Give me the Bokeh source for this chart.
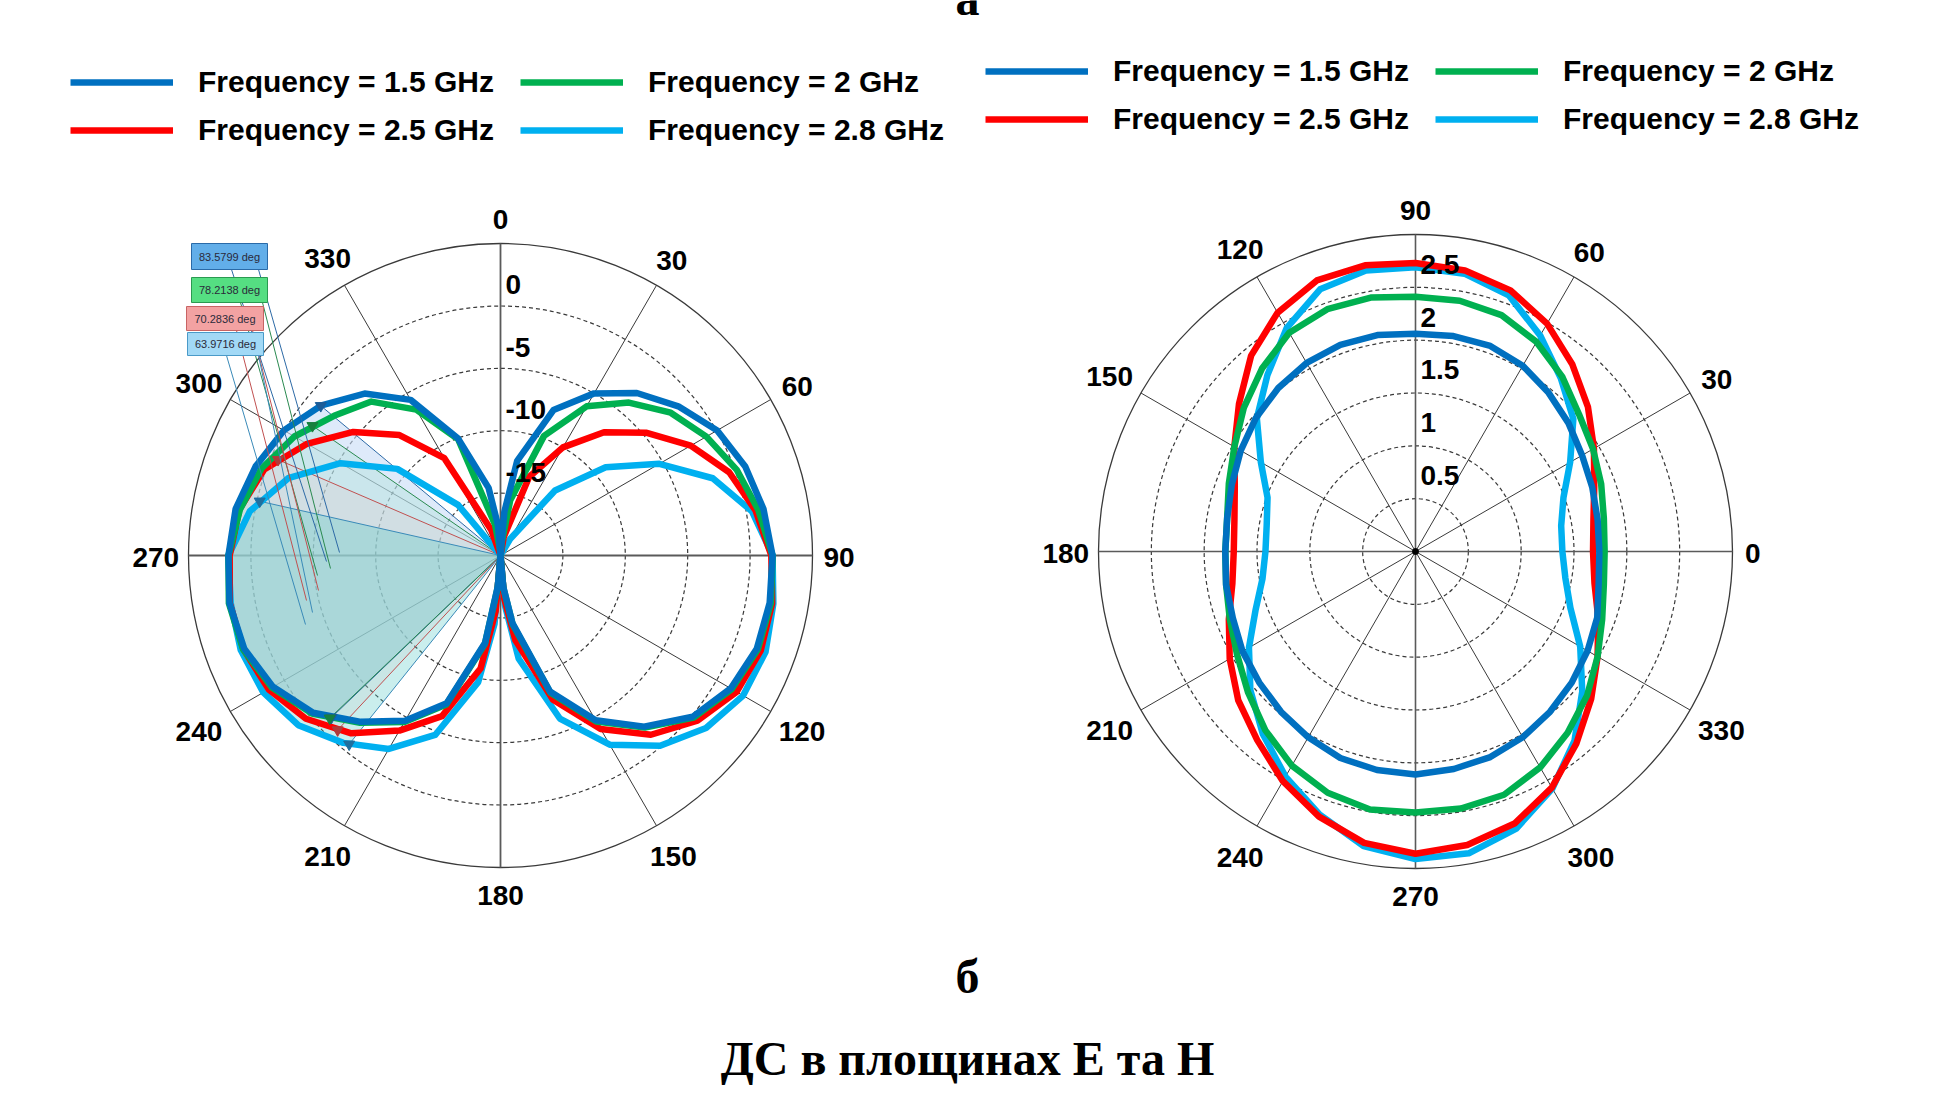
import numpy as np
from bokeh.plotting import figure
from bokeh.models import Range1d, Legend, LegendItem
from bokeh.layouts import column, row
from bokeh.embed import file_html
from bokeh.resources import INLINE
from bokeh.core.properties import value

# ---------------- data ----------------
series_names = ["Frequency = 1.5 GHz", "Frequency = 2 GHz", "Frequency = 2.5 GHz", "Frequency = 2.8 GHz"]
series_colors = ["#0070C0", "#00B050", "#FF0000", "#00B0F0"]

# E-plane (left chart): angle (deg, clockwise from top) and gain (dB)
e_theta = [0, 5, 10, 20, 30, 40, 50, 60, 70, 80, 90, 100, 110, 120, 130, 140, 150, 160, 170, 175,
           180, 185, 190, 200, 210, 220, 230, 240, 250, 260, 270, 280, 290, 300, 310, 320, 330, 340, 350, 355, 360]
e_gain_15 = [-20, -16.5, -12.3, -7.6, -5.0, -3.0, -1.4, 0.05, 0.87, 1.4, 1.8, 1.9, 1.85, 1.3, 0.1, -2.1, -4.75, -8.4, -14.5, -17.5,
             -20, -17.5, -12.9, -7.4, -4.7, -2.6, -0.4, 1.05, 1.85, 2.05, 1.8, 1.55, 0.88, 0.05, -1.28, -3.06, -5.6, -10.0, -14.5, -17.5, -20]
e_gain_20 = [-20, -19, -15.5, -9.8, -6.2, -4.0, -2.2, -0.95, 0.13, 0.98, 1.8, 2.0, 1.95, 1.4, 0.2, -2.0, -4.65, -8.3, -14.4, -17.4,
             -20, -17.4, -12.8, -7.3, -4.6, -2.5, -0.3, 1.15, 1.95, 2.1, 1.8, 1.2, 0.38, -0.93, -2.59, -3.9, -6.5, -10.1, -17.5, -19.5, -20]
e_gain_25 = [-20, -20, -18.5, -13.3, -10.0, -7.1, -4.7, -2.4, -0.5, 0.75, 1.7, 2.1, 2.2, 1.85, 0.6, -1.25, -3.95, -7.7, -13.1, -16.5,
             -20, -15.5, -10.8, -6.3, -3.8, -1.4, 0.35, 1.45, 1.93, 2.03, 1.7, 1.25, 0.15, -2.1, -4.6, -7.4, -11.0, -17.8, -20, -20, -20]
e_gain_28 = [-20, -20, -20, -20, -18.5, -13.2, -9.0, -5.3, -1.9, 0.45, 1.8, 2.2, 2.6, 2.45, 1.5, -0.1, -2.5, -6.1, -11.6, -16.0,
             -20, -14.5, -9.7, -4.7, -2.1, -0.4, 1.15, 1.95, 2.15, 1.95, 1.8, 0.4, -1.9, -5.2, -9.2, -14.7, -20, -20, -20, -20, -20]
e_rmin, e_rmax = -20, 5
e_rticks = [-15, -10, -5, 0]
e_rtick_labels = ["-15", "-10", "-5", "0"]
e_angle_ticks = [0, 30, 60, 90, 120, 150, 180, 210, 240, 270, 300, 330]

# half-power beamwidth markers on the left lobe
bw_deg = [83.5799, 78.2138, 70.2836, 63.9716]
bw_upper = [309.8, 304.6, 293.3, 282.7]

# H-plane (right chart): angle (deg, counter-clockwise from right) and gain (linear)
h_phi = [0, 10, 20, 30, 40, 50, 60, 70, 80, 90, 100, 110, 120, 130, 140, 150, 160, 170, 180,
         190, 200, 210, 220, 230, 240, 250, 260, 270, 280, 290, 300, 310, 320, 330, 340, 350, 360]
h_gain_15 = [1.74, 1.75, 1.78, 1.82, 1.89, 1.96, 2.03, 2.07, 2.07, 2.06, 2.08, 2.08, 2.06, 2.02, 1.97, 1.91, 1.85, 1.81, 1.80,
             1.82, 1.84, 1.89, 1.93, 1.98, 2.03, 2.08, 2.10, 2.11, 2.09, 2.07, 2.03, 1.98, 1.93, 1.88, 1.83, 1.76, 1.74]
h_gain_20 = [1.79, 1.81, 1.87, 1.94, 2.02, 2.16, 2.29, 2.38, 2.41, 2.41, 2.44, 2.44, 2.39, 2.26, 2.12, 1.98, 1.88, 1.81, 1.80,
             1.82, 1.87, 1.95, 2.07, 2.21, 2.34, 2.43, 2.48, 2.47, 2.47, 2.45, 2.36, 2.24, 2.12, 1.99, 1.88, 1.81, 1.79]
h_gain_25 = [1.68, 1.71, 1.80, 1.95, 2.13, 2.31, 2.49, 2.63, 2.70, 2.73, 2.75, 2.73, 2.61, 2.42, 2.18, 1.98, 1.82, 1.74, 1.72,
             1.76, 1.88, 2.03, 2.19, 2.33, 2.51, 2.67, 2.80, 2.86, 2.82, 2.74, 2.58, 2.37, 2.17, 1.99, 1.84, 1.72, 1.68]
h_gain_28 = [1.39, 1.40, 1.49, 1.69, 1.95, 2.14, 2.36, 2.58, 2.67, 2.69, 2.70, 2.64, 2.44, 2.18, 1.96, 1.69, 1.49, 1.43, 1.42,
             1.47, 1.61, 1.82, 2.04, 2.25, 2.46, 2.65, 2.83, 2.91, 2.90, 2.79, 2.59, 2.34, 2.06, 1.80, 1.56, 1.44, 1.39]
h_rmax = 3.0
h_rticks = [0.5, 1, 1.5, 2, 2.5]
h_rtick_labels = ["0.5", "1", "1.5", "2", "2.5"]
h_angle_ticks = [0, 30, 60, 90, 120, 150, 180, 210, 240, 270, 300, 330]

caption_top = "а"
caption_sub = "б"
caption_title = "ДС в площинах Е та Н"

# ---------------- layout / style constants (screen px) ----------------
OX, OY = 0, 0
TOP_H, MID_H, BOT_H = 48, 895, 142
LEFT_W, RIGHT_W = 966, 951
PAGE_W = LEFT_W + RIGHT_W
L_C, L_R = (500.0, 555.0), 312.0
R_C, R_R = (1415.0, 551.0), 317.0
FONT = "Liberation Sans"
SERIF = "Liberation Serif"
TICK_FS = 28
LINE_W = 6.5
GRID_C = "#3a3a3a"
AXIS_C = "#5a5a5a"
draw_order = [3, 2, 1, 0]


def new_fig(w, h, xr, yr):
    p = figure(width=w, height=h, x_range=Range1d(*xr), y_range=Range1d(*yr),
               x_axis_type=None, y_axis_type=None, toolbar_location=None,
               output_backend="svg", min_border=0, outline_line_color=None,
               background_fill_color="white", border_fill_color="white")
    return p


def tick_label_pos(dirs, texts, r_px, scale, fs):
    xs, ys = [], []
    for (ux, uy), t in zip(dirs, texts):
        w = len(t) * 0.556 * fs
        h = 0.716 * fs
        off = 14 + 0.4 * w * abs(ux) + 0.6 * h * abs(uy)
        rr = r_px + off
        xs.append(rr * ux / scale)
        ys.append((rr * uy - 2) / scale)
    return xs, ys


def add_legend(p, renderers, loc):
    leg = Legend(items=[LegendItem(label=n, renderers=[renderers[i]]) for i, n in enumerate(series_names)],
                 orientation="horizontal", ncols=2, location=loc,
                 glyph_width=103, glyph_height=20, label_standoff=25, label_width=308, spacing=14,
                 padding=0, margin=0, border_line_alpha=0, background_fill_alpha=0,
                 label_text_font=FONT, label_text_font_style="bold", label_text_font_size="30px",
                 label_text_color="black")
    p.add_layout(leg)


# ---------------- left (E-plane, dB) ----------------
l_scale = L_R / (e_rmax - e_rmin)
fx0, fy0 = OX, OY + TOP_H
lp = new_fig(LEFT_W, MID_H,
             ((fx0 - L_C[0]) / l_scale, (fx0 + LEFT_W - L_C[0]) / l_scale),
             ((L_C[1] - (fy0 + MID_H)) / l_scale, (L_C[1] - fy0) / l_scale))


def e_xy(theta, gain):
    r = np.clip(np.asarray(gain, float) - e_rmin, 0, None)
    t = np.radians(np.asarray(theta, float))
    return r * np.sin(t), r * np.cos(t)


R_e = e_rmax - e_rmin
ring_e = [t - e_rmin for t in e_rticks]
lp.circle(x=[0] * len(ring_e), y=[0] * len(ring_e), radius=ring_e, fill_color=None,
          line_color=GRID_C, line_dash="4 3", line_width=1.2)
lp.circle(x=[0], y=[0], radius=[R_e], fill_color=None, line_color=GRID_C, line_width=1.3)
sp = np.radians(e_angle_ticks)
lp.segment(x0=0, y0=0, x1=list(R_e * np.sin(sp)), y1=list(R_e * np.cos(sp)), line_color=GRID_C, line_width=1)
lp.segment(x0=[0, -R_e], y0=[-R_e, 0], x1=[0, R_e], y1=[R_e, 0], line_color=AXIS_C, line_width=1.8)

gains_e = [e_gain_15, e_gain_20, e_gain_25, e_gain_28]
fill_colors = ["#c8dcf6", "#86dcbc", "#f5b8b8", "#4fc8c4"]
fill_alphas = [0.6, 0.22, 0.15, 0.3]
marker_colors = ["#1c5d99", "#17803f", "#b03a3a", "#1f6f9f"]
ray_colors = ["#2d6aa6", "#2a8a50", "#c05050", "#3a8ab8"]

marker_pts = []
for i in range(4):
    a1 = bw_upper[i]
    a0 = a1 - bw_deg[i]
    angs = [a0] + [a for a in e_theta if a0 < a < a1] + [a1]
    g = np.interp(angs, e_theta, gains_e[i])
    xs, ys = e_xy(angs, g)
    lp.patch(x=[0] + list(xs), y=[0] + list(ys), fill_color=fill_colors[i], fill_alpha=fill_alphas[i],
             line_color=None)
    marker_pts.append(((xs[0], ys[0]), (xs[-1], ys[-1])))
for i in range(4):
    (x0, y0), (x1, y1) = marker_pts[i]
    lp.segment(x0=[0, 0], y0=[0, 0], x1=[x0, x1], y1=[y0, y1], line_color=ray_colors[i], line_width=1)

e_rend = [None] * 4
for i in draw_order:
    xs, ys = e_xy(e_theta, gains_e[i])
    e_rend[i] = lp.line(x=list(xs), y=list(ys), line_color=series_colors[i], line_width=LINE_W,
                        line_join="round")

for i in range(4):
    (x0, y0), (x1, y1) = marker_pts[i]
    lp.scatter(x=[x0, x1], y=[y0, y1], marker="inverted_triangle", size=11,
               fill_color=marker_colors[i], line_color=marker_colors[i])


def lpx(x):
    return (x - L_C[0]) / l_scale


def lpy(y):
    return (L_C[1] - y) / l_scale


# annotation boxes and leader lines (screen px)
bw_boxes = [(191, 243, 267, 269), (191, 277, 267, 302), (186, 306, 263, 330), (187, 332, 263, 355)]
bw_leaders = [[(231, 269, 326, 561), (258, 269, 339, 552)],
              [(240, 302, 317, 575), (262, 302, 330, 568)],
              [(236, 330, 306, 600), (252, 330, 318, 590)],
              [(226, 355, 305, 624), (258, 355, 312, 612)]]
box_fill = ["#62aee9", "#55de82", "#f3a2a2", "#a2d9f6"]
box_line = ["#2a6aa8", "#2a9a50", "#c86464", "#4a9ac8"]
for i in range(4):
    for (xa, ya, xb, yb) in bw_leaders[i]:
        lp.segment(x0=[lpx(xa)], y0=[lpy(ya)], x1=[lpx(xb)], y1=[lpy(yb)], line_color=ray_colors[i], line_width=1)
for i in range(4):
    l, t, r, b = bw_boxes[i]
    lp.quad(left=[lpx(l)], right=[lpx(r)], top=[lpy(t)], bottom=[lpy(b)], fill_color=box_fill[i],
            line_color=box_line[i], line_width=1)
    lp.text(x=[lpx((l + r) / 2)], y=[lpy((t + b) / 2)], text=["%.4f deg" % bw_deg[i]],
            text_font=value(FONT), text_font_size="11px", text_color="#2a2a3a",
            text_align="center", text_baseline="middle")

dirs_e = [(np.sin(np.radians(a)), np.cos(np.radians(a))) for a in e_angle_ticks]
txt_e = [str(a) for a in e_angle_ticks]
lx, ly = tick_label_pos(dirs_e, txt_e, L_R, l_scale, TICK_FS)
lp.text(x=lx, y=ly, text=txt_e, text_font=value(FONT), text_font_style="bold", text_font_size="%dpx" % TICK_FS,
        text_color="black", text_align="center", text_baseline="middle")
lp.text(x=[5 / l_scale] * len(e_rticks),
        y=[t - e_rmin + (12 + 0.358 * TICK_FS - 1) / l_scale for t in e_rticks], text=e_rtick_labels,
        text_font=value(FONT), text_font_style="bold", text_font_size="%dpx" % TICK_FS,
        text_color="black", text_align="left", text_baseline="middle")
add_legend(lp, e_rend, (70, 796))

# ---------------- right (H-plane, linear) ----------------
h_scale = R_R / h_rmax
rx0 = OX + LEFT_W
rp = new_fig(RIGHT_W, MID_H,
             ((rx0 - R_C[0]) / h_scale, (rx0 + RIGHT_W - R_C[0]) / h_scale),
             ((R_C[1] - (fy0 + MID_H)) / h_scale, (R_C[1] - fy0) / h_scale))


def h_xy(phi, gain):
    r = np.asarray(gain, float)
    t = np.radians(np.asarray(phi, float))
    return r * np.cos(t), r * np.sin(t)


rp.circle(x=[0] * len(h_rticks), y=[0] * len(h_rticks), radius=h_rticks, fill_color=None,
          line_color=GRID_C, line_dash="4 3", line_width=1.2)
rp.circle(x=[0], y=[0], radius=[h_rmax], fill_color=None, line_color=GRID_C, line_width=1.3)
sp = np.radians(h_angle_ticks)
rp.segment(x0=0, y0=0, x1=list(h_rmax * np.cos(sp)), y1=list(h_rmax * np.sin(sp)), line_color=GRID_C, line_width=1)
rp.segment(x0=[0, -h_rmax], y0=[-h_rmax, 0], x1=[0, h_rmax], y1=[h_rmax, 0], line_color=AXIS_C, line_width=1.6)

gains_h = [h_gain_15, h_gain_20, h_gain_25, h_gain_28]
h_rend = [None] * 4
for i in draw_order:
    xs, ys = h_xy(h_phi, gains_h[i])
    h_rend[i] = rp.line(x=list(xs), y=list(ys), line_color=series_colors[i], line_width=LINE_W,
                        line_join="round")
rp.scatter(x=[0], y=[0], size=6, color="black")

dirs_h = [(np.cos(np.radians(a)), np.sin(np.radians(a))) for a in h_angle_ticks]
txt_h = [str(a) for a in h_angle_ticks]
hx, hy = tick_label_pos(dirs_h, txt_h, R_R, h_scale, TICK_FS)
rp.text(x=hx, y=hy, text=txt_h, text_font=value(FONT), text_font_style="bold", text_font_size="%dpx" % TICK_FS,
        text_color="black", text_align="center", text_baseline="middle")
rp.text(x=[5 / h_scale] * len(h_rticks),
        y=[t + (14 + 0.358 * TICK_FS - 1) / h_scale for t in h_rticks], text=h_rtick_labels,
        text_font=value(FONT), text_font_style="bold", text_font_size="%dpx" % TICK_FS,
        text_color="black", text_align="left", text_baseline="middle")
add_legend(rp, h_rend, (19, 807))

# ---------------- captions ----------------
tp = new_fig(PAGE_W, TOP_H, (OX, OX + PAGE_W), (OY + TOP_H, OY))
tp.text(x=[967], y=[-2], text=[caption_top], text_font=value(SERIF), text_font_style="bold",
        text_font_size="48px", text_color="black", text_align="center", text_baseline="middle")

by0 = OY + TOP_H + MID_H
bp = new_fig(PAGE_W, BOT_H, (OX, OX + PAGE_W), (by0 + BOT_H, by0))
bp.text(x=[967], y=[976], text=[caption_sub], text_font=value(SERIF), text_font_style="bold",
        text_font_size="48px", text_color="black", text_align="center", text_baseline="middle")
bp.text(x=[967], y=[1058], text=[caption_title], text_font=value(SERIF), text_font_style="bold",
        text_font_size="48px", text_color="black", text_align="center", text_baseline="middle")

layout = column(tp, row(lp, rp), bp)
open("out.html", "w").write(file_html(layout, INLINE))
